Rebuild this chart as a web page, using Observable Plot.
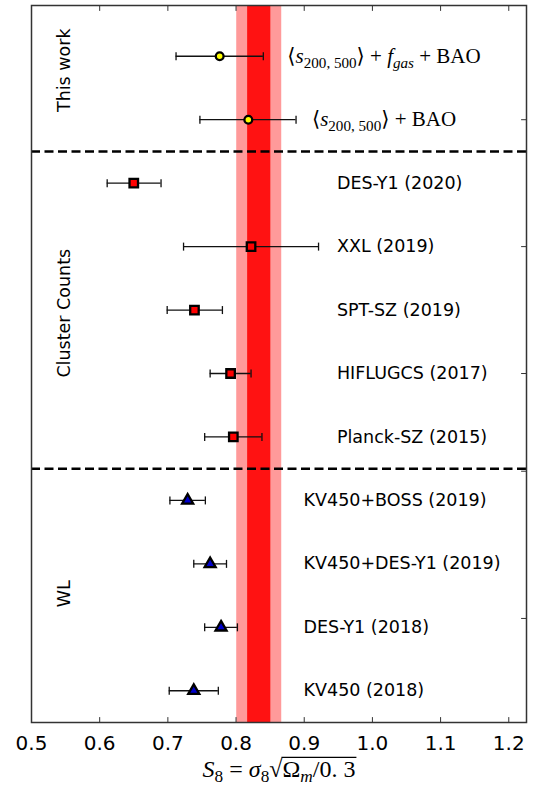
<!DOCTYPE html>
<html><head><meta charset="utf-8">
<script src="https://cdn.jsdelivr.net/npm/d3@7"></script>
<script src="https://cdn.jsdelivr.net/npm/@observablehq/plot@0.6"></script>
<style>body{margin:0;background:#fff} svg{display:block}</style>
</head><body><div id="chart"></div>
<script>
// ---- data ----
const names = [
  "⟨*s*_{200, 500}⟩ + *f*_{*gas*} + BAO",
  "⟨*s*_{200, 500}⟩ + BAO",
  "DES-Y1 (2020)",
  "XXL (2019)",
  "SPT-SZ (2019)",
  "HIFLUGCS (2017)",
  "Planck-SZ (2015)",
  "KV450+BOSS (2019)",
  "KV450+DES-Y1 (2019)",
  "DES-Y1 (2018)",
  "KV450 (2018)"
];
const groupOf = ["This work","This work",
  "Cluster Counts","Cluster Counts","Cluster Counts","Cluster Counts","Cluster Counts",
  "WL","WL","WL","WL"];
const s8 = [0.776, 0.818, 0.650, 0.822, 0.739, 0.792, 0.796, 0.729, 0.762, 0.778, 0.738];
const lo = [0.712, 0.747, 0.611, 0.723, 0.699, 0.762, 0.754, 0.703, 0.738, 0.754, 0.702];
const hi = [0.840, 0.888, 0.690, 0.921, 0.780, 0.822, 0.838, 0.755, 0.786, 0.802, 0.774];

// reference band (outer / inner)
const bandLo = [0.801, 0.817];
const bandHi = [0.867, 0.851];
const bandColor = ["#ff9a9a", "#ff1212"];

// group names, where their side label sits (row units) and where row labels sit (S8 units)
const groupNames = ["This work", "Cluster Counts", "WL"];
const groupLabelRow = [0.22, 4.05, 8.47];
const rowLabelX = [1.017, 0.948, 0.899];
const rowLabelAnchor = ["middle", "start", "start"];
const groupSymbol = ["circle", "square", "triangle"];
const groupFill = ["#ffff00", "#ff0000", "#0000cc"];
const groupR = [3.9, 4.8, 4.1];

const dividers = [1.5, 6.5];
const xTicks = [0.5, 0.6, 0.7, 0.8, 0.9, 1.0, 1.1, 1.2];
const rightTicks = [1, 3, 5, 6.54, 8.86];
const xDomain = [0.5, 1.226];
const yDomain = [10.5, -0.8];
const xLabel = "*S*_{8} = *σ*_{8}√~{Ω_{*m*}/0. 3}";

// ---- build table ----
const rows = names.map((name, i) => {
  const g = groupNames.indexOf(groupOf[i]);
  return {name, row: i, g, s8: s8[i], lo: lo[i], hi: hi[i]};
});
const bands = bandLo.map((l, i) => ({lo: l, hi: bandHi[i], color: bandColor[i]}));
const groups = groupNames.map((name, i) => ({name, row: groupLabelRow[i]}));

const capSymbol = {draw(ctx, size) { const h = Math.sqrt(size / Math.PI); ctx.moveTo(0, -h); ctx.lineTo(0, h); }};
const tickShape = {draw(ctx, l) { ctx.moveTo(0, 0); ctx.lineTo(0, -l); }};
const mathFont = "Liberation Serif, DejaVu Serif, serif";

const marks = [
  Plot.rect(bands, {x1: "lo", x2: "hi", fill: "color"}),
  Plot.ruleY(dividers, {stroke: "#000", strokeWidth: 2.5, strokeDasharray: "9,4.5"}),
  Plot.ruleY(rows, {y: "row", x1: "lo", x2: "hi", stroke: "#111", strokeWidth: 1.3}),
  Plot.dot(rows, {x: "lo", y: "row", symbol: capSymbol, r: 4, stroke: "#111", strokeWidth: 1.3}),
  Plot.dot(rows, {x: "hi", y: "row", symbol: capSymbol, r: 4, stroke: "#111", strokeWidth: 1.3})
];
groupNames.forEach((gname, g) => {
  const sub = rows.filter(d => d.g === g);
  marks.push(Plot.dot(sub, {x: "s8", y: "row", symbol: groupSymbol[g], r: groupR[g],
    fill: groupFill[g], stroke: "#000", strokeWidth: 2.3}));
  marks.push(Plot.text(sub, {x: () => rowLabelX[g], y: "row", text: "name",
    textAnchor: rowLabelAnchor[g], fontSize: g === 0 ? 21 : 17.5,
    fontFamily: g === 0 ? mathFont : "DejaVu Sans"}));
});
marks.push(
  Plot.text(groups, {y: "row", text: "name", frameAnchor: "left", textAnchor: "middle",
    dx: 32.5, rotate: -90, fontSize: 17.5, fontFamily: "DejaVu Sans"}),
  Plot.vector(xTicks, {x: d => d, frameAnchor: "bottom", anchor: "start", rotate: 0, length: 5,
    shape: tickShape, stroke: "#333", strokeWidth: 1}),
  Plot.vector(xTicks.slice(1), {x: d => d, frameAnchor: "top", anchor: "start", rotate: 180, length: 5,
    shape: tickShape, stroke: "#333", strokeWidth: 1}),
  Plot.vector(rightTicks, {y: d => d, frameAnchor: "right", anchor: "start", rotate: -90, length: 5,
    shape: tickShape, stroke: "#333", strokeWidth: 1}),
  Plot.frame({stroke: "#333", strokeWidth: 1.5}),
  Plot.axisX(xTicks, {tickSize: 0, tickPadding: 13, tickFormat: d3.format(".1f"), fontSize: 20, label: null}),
  Plot.text([xLabel], {frameAnchor: "bottom", dy: 54, text: d => d, fontSize: 24, fontFamily: mathFont})
);

const svg = Plot.plot({
  width: 533, height: 788,
  marginLeft: 31, marginRight: 7, marginTop: 5, marginBottom: 66,
  x: {domain: xDomain},
  y: {domain: yDomain, axis: null},
  style: {fontFamily: "DejaVu Sans", fontSize: "20px", background: "#fff", color: "#000"},
  marks
});

// ---- rich text (italic / subscript / overline) for math labels ----
function findClose(s, i) { let depth = 0; for (let j = i; j < s.length; j++) { if (s[j] === "{") depth++; else if (s[j] === "}") { depth--; if (depth === 0) return j; } } return s.length; }
function parseInto(s, parent) {
  let i = 0, buf = "";
  const flush = () => { if (buf) { parent.append("tspan").text(buf); buf = ""; } };
  while (i < s.length) {
    const c = s[i];
    if (c === "*") {
      flush(); const j = s.indexOf("*", i + 1);
      parent.append("tspan").attr("font-style", "italic").text(s.slice(i + 1, j));
      i = j + 1;
    } else if ((c === "_" || c === "~") && s[i + 1] === "{") {
      flush(); const j = findClose(s, i + 1);
      const t = parent.append("tspan");
      if (c === "_") t.attr("font-size", "72%").attr("baseline-shift", "-0.3em");
      else t.attr("class", "overline");
      parseInto(s.slice(i + 2, j), t);
      i = j + 1;
    } else { buf += c; i++; }
  }
  flush();
}
d3.select(svg).selectAll("text").each(function() {
  const t = this.textContent;
  if (/\*|_\{|~\{/.test(t) && this.childElementCount === 0) {
    const sel = d3.select(this); sel.text(null); parseInto(t, sel);
  }
});
document.getElementById("chart").appendChild(svg);

// radical bar: drawn over the measured extent of the overlined text
d3.select(svg).selectAll("tspan.overline").each(function() {
  const text = this.closest("text");
  const n = this.getNumberOfChars();
  const s = this.getStartPositionOfChar(0);
  const e = this.getEndPositionOfChar(n - 1);
  const fs = parseFloat(getComputedStyle(text).fontSize);
  const y = s.y - 0.80 * fs;
  d3.select(text.parentNode).append("line")
    .attr("transform", text.getAttribute("transform"))
    .attr("x1", s.x - 1).attr("x2", e.x + 1).attr("y1", y).attr("y2", y)
    .attr("stroke", "#000").attr("stroke-width", 1.3);
});
</script>
</body></html>
